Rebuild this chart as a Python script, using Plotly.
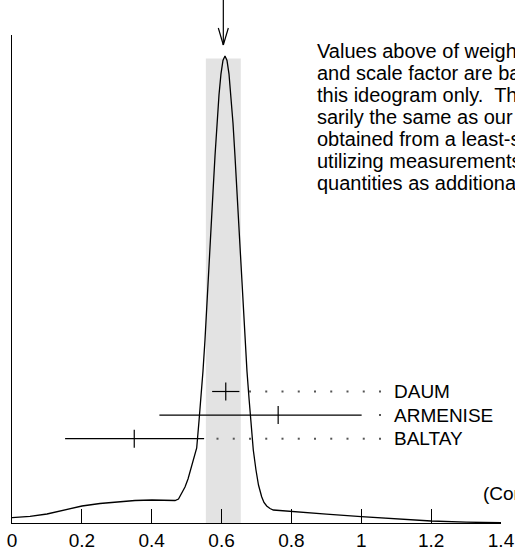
import plotly.graph_objects as go
import numpy as np

# ---------------- data ----------------
experiments = ["DAUM", "ARMENISE", "BALTAY"]
values = [0.612, 0.762, 0.350]
err_minus = [0.039, 0.340, 0.198]
err_plus = [0.039, 0.239, 0.200]

wavg = 0.605
wavg_err = 0.050

# ideogram curve (x in measured units, y in arbitrary height units)
curve_x = [0.000, 0.0515, 0.1002, 0.1517, 0.2004, 0.2519, 0.3006, 0.3521, 0.4008,
           0.4380, 0.4667, 0.4767, 0.4858, 0.4953, 0.5039, 0.5125, 0.5210, 0.5288,
           0.5354, 0.5411, 0.5468, 0.5525, 0.5583, 0.5640, 0.5697, 0.5754, 0.5812,
           0.5869, 0.5926, 0.5983, 0.6040, 0.6098, 0.6155, 0.6212, 0.6269, 0.6327,
           0.6384, 0.6441, 0.6498, 0.6556, 0.6613, 0.6670, 0.6727, 0.6785, 0.6842,
           0.6908, 0.6985, 0.7057, 0.7148, 0.7214, 0.7292, 0.7386, 0.7481, 0.8016,
           0.9000, 1.0000, 1.1000, 1.2000, 1.3000, 1.4000]
curve_y = [5.3, 6.7, 9.0, 13.0, 17.0, 19.5, 21.3, 22.5, 23.0,
           22.7, 22.5, 24.0, 29.7, 36.0, 44.0, 54.0, 64.0, 75.0,
           102.0, 125.0, 152.0, 183.0, 217.3, 254.0, 292.3, 330.5, 367.0,
           400.0, 428.0, 449.2, 462.5, 467.0, 462.5, 449.2, 428.0, 400.0,
           367.0, 330.5, 292.3, 254.0, 217.3, 183.0, 152.0, 125.0, 102.0,
           73.0, 53.0, 38.0, 26.3, 20.5, 17.0, 14.5, 13.0, 11.3,
           8.8, 6.3, 4.2, 2.0, 0.8, 0.3]

x_ticks = [0, 0.2, 0.4, 0.6, 0.8, 1.0, 1.2, 1.4]

note_lines = [
    "Values above of weighted average, error,",
    "and scale factor are based upon the data in",
    "this ideogram only.  They are not neces-",
    "sarily the same as our `best' values,",
    "obtained from a least-squares constrained fit",
    "utilizing measurements of other (related)",
    "quantities as additional information.",
]
cl_text = "(Confidence Level = 0.106)"

# ---------------- layout constants ----------------
W, H = 515, 554
ML, MR, MT, MB = 12, 14, 35, 31
YMAX = 488.0
FONT = "Liberation Sans, Arial, Helvetica, sans-serif"
PX = (W - ML - MR) / 1.4  # pixels per x unit


def ypaper(pix):
    """convert a pixel row of the page to paper coordinate"""
    return (H - MB - pix) / (H - MT - MB)


fig = go.Figure()

# weighted average band
fig.add_shape(type="rect", xref="x", yref="y",
              x0=wavg - wavg_err, x1=wavg + wavg_err, y0=0, y1=464.5,
              fillcolor="#e3e3e3", line=dict(width=0), layer="below")

# ideogram curve
fig.add_trace(go.Scatter(x=curve_x, y=curve_y, mode="lines",
                         line=dict(color="black", width=1.3),
                         hoverinfo="skip", showlegend=False))

row_y0 = 131.5
row_step = 23.6
tick_half = 9
label_x = 1.4 * (392 - ML) / (W - ML - MR)
dot_end = 1.4 * (380 - ML) / (W - ML - MR)
dot_step = 16.25 / PX
dot_gap = 8 / PX

for i, name in enumerate(experiments):
    yy = row_y0 - i * row_step
    v = values[i]
    lo = v - err_minus[i]
    hi = v + err_plus[i]
    fig.add_trace(go.Scatter(x=[lo, hi], y=[yy, yy], mode="lines",
                             line=dict(color="black", width=1.2),
                             hoverinfo="skip", showlegend=False))
    fig.add_trace(go.Scatter(x=[v, v], y=[yy - tick_half, yy + tick_half], mode="lines",
                             line=dict(color="black", width=1.2),
                             hoverinfo="skip", showlegend=False))
    dots = []
    k = 0
    while dot_end - k * dot_step > hi + dot_gap:
        dots.append(dot_end - k * dot_step)
        k += 1
    fig.add_trace(go.Scatter(x=dots, y=[yy] * len(dots), mode="markers",
                             marker=dict(color="#555555", size=2, symbol="square",
                                         line=dict(width=0)),
                             hoverinfo="skip", showlegend=False))
    fig.add_annotation(x=label_x, y=yy, xref="x", yref="y", text=name,
                       showarrow=False, xanchor="left", yanchor="middle",
                       font=dict(family=FONT, size=19, color="black"))

# arrow marking the weighted average
arrow_dx = 5 / PX
fig.add_shape(type="line", xref="x", yref="paper", x0=wavg, x1=wavg,
              y0=ypaper(0), y1=ypaper(45), line=dict(color="black", width=1.2))
fig.add_shape(type="line", xref="x", yref="paper", x0=wavg - arrow_dx, x1=wavg,
              y0=ypaper(28), y1=ypaper(45), line=dict(color="black", width=1.2))
fig.add_shape(type="line", xref="x", yref="paper", x0=wavg + arrow_dx, x1=wavg,
              y0=ypaper(28), y1=ypaper(45), line=dict(color="black", width=1.2))

# explanatory note
note_x = (315 - ML) / (W - ML - MR)
for j, line in enumerate(note_lines):
    fig.add_annotation(x=note_x, y=ypaper(51 + 22 * j), xref="paper", yref="paper",
                       text=line, showarrow=False, xanchor="left", yanchor="middle",
                       font=dict(family=FONT, size=20, color="black"))

fig.add_annotation(x=(481 - ML) / (W - ML - MR), y=ypaper(493), xref="paper", yref="paper",
                   text=cl_text, showarrow=False, xanchor="left", yanchor="middle",
                   font=dict(family=FONT, size=19, color="black"))

fig.update_layout(
    width=W, height=H,
    margin=dict(l=ML, r=MR, t=MT, b=MB, pad=0, autoexpand=False),
    paper_bgcolor="white", plot_bgcolor="white",
    showlegend=False,
    xaxis=dict(range=[0, 1.4], tickmode="array", tickvals=x_ticks,
               ticks="inside", ticklen=14, tickwidth=1.2, tickcolor="black",
               showline=True, linecolor="black", linewidth=1.3,
               showgrid=False, zeroline=False, automargin=False,
               tickfont=dict(family=FONT, size=19, color="black")),
    yaxis=dict(range=[0, YMAX], showticklabels=False, ticks="",
               showline=True, linecolor="black", linewidth=1.3,
               showgrid=False, zeroline=False, automargin=False),
)

fig.write_html("out.html", config={"displayModeBar": False},
               post_script="document.body.style.margin='0';document.body.style.overflow='hidden';")
